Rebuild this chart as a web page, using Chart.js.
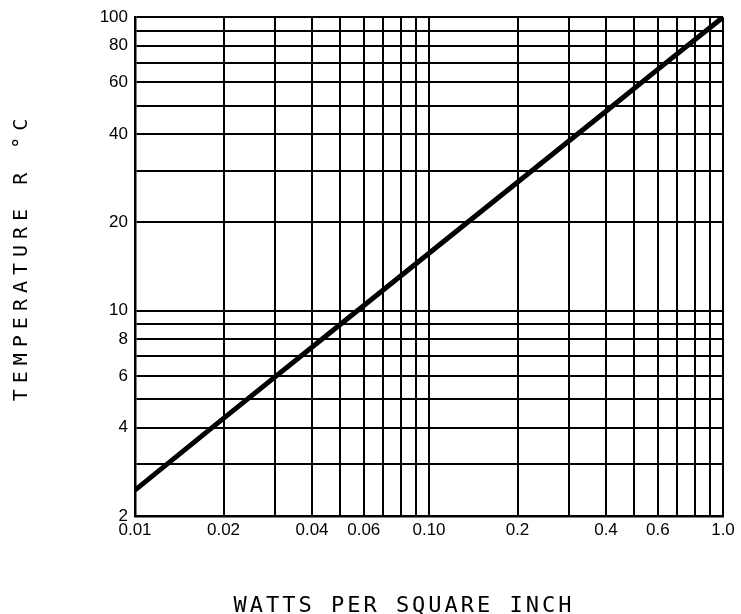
<!DOCTYPE html>
<html>
<head>
<meta charset="utf-8">
<script src="https://cdn.jsdelivr.net/npm/chart.js@4/dist/chart.umd.min.js"></script>
<style>
  html, body { margin: 0; padding: 0; background: #fff; }
  #wrap { width: 741px; height: 614px; }
</style>
</head>
<body>
<div id="wrap"><canvas id="tempRiseChart" width="741" height="614"></canvas></div>
<script>
// values
const wattsPerSqIn = [0.01, 0.02, 0.05, 0.1, 0.2, 0.4, 0.6, 1.0];
const temperatureRise = [2.45, 4.3, 9.0, 15.7, 27.4, 47.8, 66.4, 100];

// grid lines, '' = line with no label
const xTickValues = [0.01, 0.02, 0.03, 0.04, 0.05, 0.06, 0.07, 0.08, 0.09, 0.1, 0.2, 0.3, 0.4, 0.5, 0.6, 0.7, 0.8, 0.9, 1.0];
const xTickLabels = ['0.01', '0.02', '', '0.04', '', '0.06', '', '', '', '0.10', '0.2', '', '0.4', '', '0.6', '', '', '', '1.0'];
const yTickValues = [2, 3, 4, 5, 6, 7, 8, 9, 10, 20, 30, 40, 50, 60, 70, 80, 90, 100];
const yTickLabels = ['2', '', '4', '', '6', '', '8', '', '10', '20', '', '40', '', '60', '', '80', '', '100'];

const xTitle = 'WATTS PER SQUARE INCH';
const yTitle = 'TEMPERATURE R °C';

// axis titles are spaced out like plotter lettering, so draw them by hand
const axisTitles = {
    id: 'axisTitles',
    afterDraw(chart) {
        const ctx = chart.ctx;
        ctx.save();
        ctx.fillStyle = '#000';
        ctx.textAlign = 'center';
        ctx.textBaseline = 'alphabetic';

        ctx.font = '22px "DejaVu Sans Mono"';
        ctx.letterSpacing = '3px';
        ctx.fillText(xTitle, 404, 612);

        ctx.translate(27, 257);
        ctx.rotate(-Math.PI / 2);
        ctx.font = '20px "DejaVu Sans Mono"';
        ctx.letterSpacing = '6px';
        ctx.fillText(yTitle, 0, 0);
        ctx.restore();
    }
};

const points = wattsPerSqIn.map((w, i) => ({ x: w, y: temperatureRise[i] }));

new Chart(document.getElementById('tempRiseChart').getContext('2d'), {
    type: 'line',
    data: {
        datasets: [{
            data: points,
            borderColor: '#000',
            borderWidth: 5,
            pointRadius: 0,
            tension: 0,
            fill: false
        }]
    },
    options: {
        responsive: false,
        animation: false,
        layout: { padding: { left: 0, right: 18, top: 14, bottom: 0 } },
        plugins: {
            legend: { display: false },
            tooltip: { enabled: false }
        },
        scales: {
            x: {
                type: 'logarithmic',
                min: 0.01,
                max: 1.0,
                afterBuildTicks: (scale) => {
                    scale.ticks = xTickValues.map(v => ({ value: v }));
                },
                afterFit: (scale) => { scale.height = 98; },
                grid: { color: '#000', lineWidth: 2, drawTicks: false },
                border: { color: '#000', width: 2.5 },
                ticks: {
                    autoSkip: false,
                    maxRotation: 0,
                    padding: 4,
                    color: '#000',
                    font: { family: '"Liberation Sans", Arial', size: 17 },
                    callback: (value, index) => xTickLabels[index]
                }
            },
            y: {
                type: 'logarithmic',
                min: 2,
                max: 100,
                afterBuildTicks: (scale) => {
                    scale.ticks = yTickValues.map(v => ({ value: v }));
                },
                afterFit: (scale) => { scale.width = 135; },
                grid: { color: '#000', lineWidth: 2, drawTicks: false },
                border: { color: '#000', width: 2.5 },
                ticks: {
                    autoSkip: false,
                    padding: 7,
                    color: '#000',
                    font: { family: '"Liberation Sans", Arial', size: 17 },
                    callback: (value, index) => yTickLabels[index]
                }
            }
        }
    },
    plugins: [axisTitles]
});
</script>
</body>
</html>
